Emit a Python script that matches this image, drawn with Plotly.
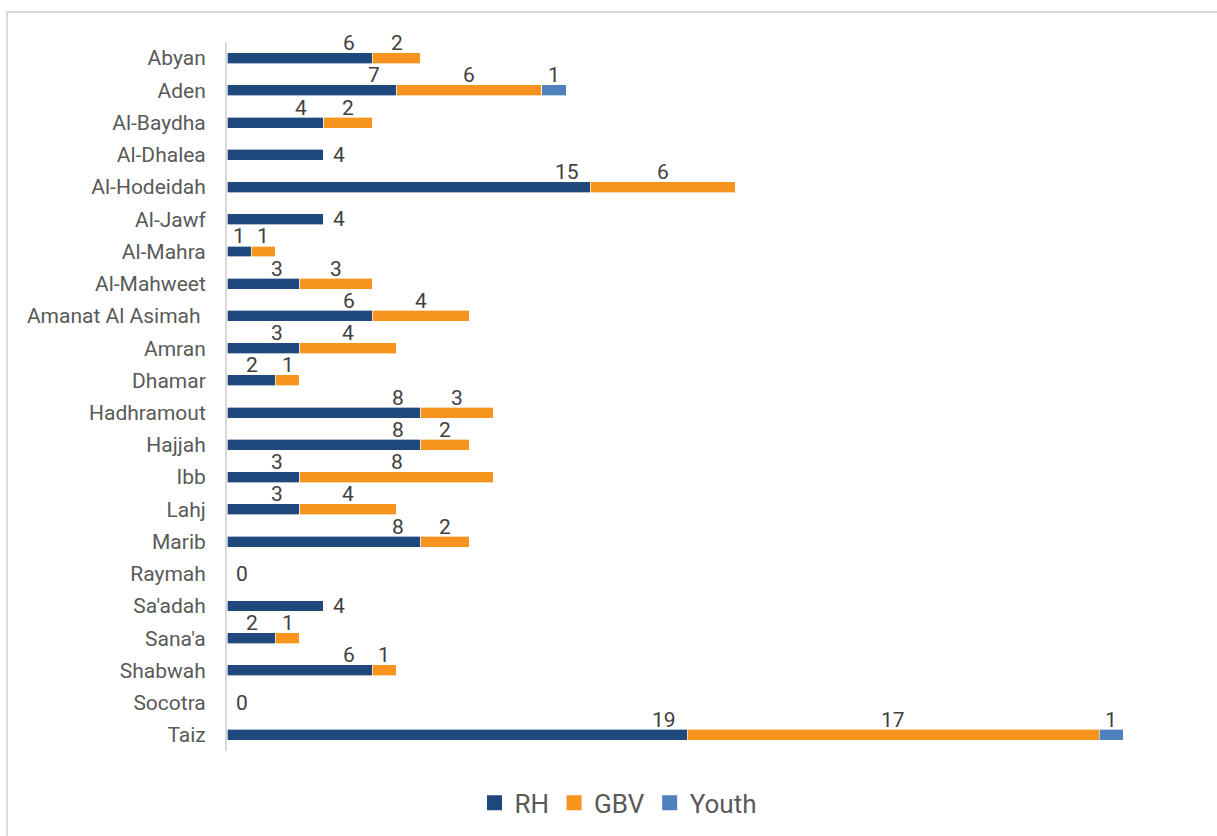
import plotly.graph_objects as go

# Governorates, top to bottom
governorates = [
    "Abyan", "Aden", "Al-Baydha", "Al-Dhalea", "Al-Hodeidah", "Al-Jawf",
    "Al-Mahra", "Al-Mahweet", "Amanat Al Asimah ", "Amran", "Dhamar",
    "Hadhramout", "Hajjah", "Ibb", "Lahj", "Marib", "Raymah", "Sa'adah",
    "Sana'a", "Shabwah", "Socotra", "Taiz",
]
rh = [6, 7, 4, 4, 15, 4, 1, 3, 6, 3, 2, 8, 8, 3, 3, 8, 0, 4, 2, 6, 0, 19]
gbv = [2, 6, 2, 0, 6, 0, 1, 3, 4, 4, 1, 3, 2, 8, 4, 2, 0, 0, 1, 1, 0, 17]
youth = [0, 1, 0, 0, 0, 0, 0, 0, 0, 0, 0, 0, 0, 0, 0, 0, 0, 0, 0, 0, 0, 1]

series = [
    ("RH", rh, "#1f497d"),
    ("GBV", gbv, "#f7941d"),
    ("Youth", youth, "#4f81bd"),
]

FONT = "Roboto, 'Open Sans', Arial, sans-serif"
LABEL_COLOR = "#404040"
LABEL_SIZE = 21

fig = go.Figure()

for name, vals, color in series:
    fig.add_trace(go.Bar(
        y=governorates, x=vals, name=name, orientation="h",
        marker=dict(color=color, line=dict(color="rgba(255,255,255,0.8)", width=0.8)),
        showlegend=False, hoverinfo="x+y+name",
    ))

# legend swatches
for name, _, color in series:
    fig.add_trace(go.Scatter(
        x=[None], y=[None], mode="markers", name=name,
        marker=dict(symbol="square", size=15, color=color),
    ))

# value labels
annotations = []
for i, g in enumerate(governorates):
    r, b, yv = rh[i], gbv[i], youth[i]
    if b == 0 and yv == 0:
        # single segment: label just past the bar end
        annotations.append(dict(
            x=r, y=g, text=str(r), showarrow=False, xanchor="left",
            xshift=7, font=dict(family=FONT, size=LABEL_SIZE, color=LABEL_COLOR),
        ))
        continue
    # RH label near the inner end of its segment, raised above the bar
    annotations.append(dict(
        x=max(r - 0.95, r / 2), y=g, text=str(r), showarrow=False,
        xanchor="center", yshift=15,
        font=dict(family=FONT, size=LABEL_SIZE, color=LABEL_COLOR),
    ))
    if b > 0:
        annotations.append(dict(
            x=r + b / 2, y=g, text=str(b), showarrow=False,
            xanchor="center", yshift=15,
            font=dict(family=FONT, size=LABEL_SIZE, color=LABEL_COLOR),
        ))
    if yv > 0:
        annotations.append(dict(
            x=r + b + yv / 2, y=g, text=str(yv), showarrow=False,
            xanchor="center", yshift=15,
            font=dict(family=FONT, size=LABEL_SIZE, color=LABEL_COLOR),
        ))

n = len(governorates)
fig.update_layout(
    width=1217, height=836, autosize=False,
    barmode="stack", bargap=0.66,
    margin=dict(l=227, r=21, t=42, b=85, autoexpand=False),
    paper_bgcolor="white", plot_bgcolor="white",
    font=dict(family=FONT, color="#595959"),
    xaxis=dict(range=[0, 40], showgrid=False, zeroline=False,
               showticklabels=False, showline=False, fixedrange=True),
    yaxis=dict(range=[n - 0.5, -0.5], showgrid=False, zeroline=False,
               showline=True, linecolor="#d9d9d9", linewidth=2,
               ticks="", ticklabelstandoff=15,
               tickfont=dict(family=FONT, size=21, color="#595959")),
    legend=dict(orientation="h", traceorder="normal",
                x=(618 - 227) / 969, xanchor="center",
                y=-0.0733, yanchor="middle",
                font=dict(family=FONT, size=26, color="#595959"),
                itemwidth=30, bgcolor="rgba(0,0,0,0)"),
    annotations=annotations,
    shapes=[dict(type="rect", xref="paper", yref="paper",
                 x0=(7 - 227) / 969, x1=1.5, y0=-0.5, y1=(751 - 12) / 709,
                 line=dict(color="#d9d9d9", width=2), layer="below")],
)

fig.write_html("out.html")
